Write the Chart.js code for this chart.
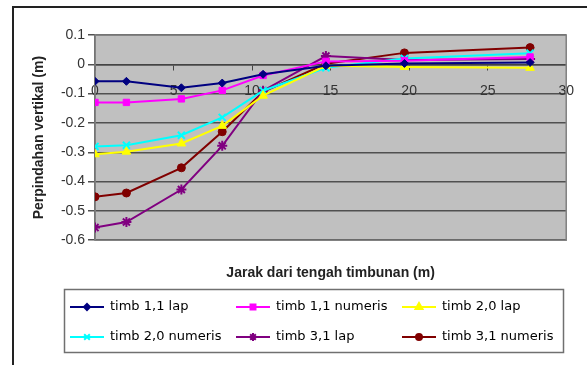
<!DOCTYPE html>
<html>
<head>
<meta charset="utf-8">
<script src="https://cdn.jsdelivr.net/npm/chart.js@4.4.0/dist/chart.umd.min.js"></script>
<style>
  html, body { margin: 0; padding: 0; background: #fff; }
  canvas { display: block; }
</style>
</head>
<body>
<canvas id="grafik" width="587" height="365"></canvas>
<script>
// jarak dari tengah timbunan (m)
const jarak = [0, 2, 5.5, 8.1, 10.7, 14.7, 19.7, 27.7];

// perpindahan vertikal (m)
const timb11Lap     = [-0.058, -0.058, -0.080, -0.064, -0.034, -0.005, 0.003, 0.006];
const timb11Numeris = [-0.130, -0.130, -0.118, -0.089, -0.038, 0.010, 0.012, 0.025];
const timb20Lap     = [-0.307, -0.298, -0.270, -0.210, -0.107, -0.005, -0.009, -0.012];
const timb20Numeris = [-0.280, -0.276, -0.242, -0.181, -0.090, -0.012, 0.020, 0.038];
const timb31Lap     = [-0.557, -0.538, -0.427, -0.278, -0.090, 0.028, 0.015, 0.018];
const timb31Numeris = [-0.452, -0.439, -0.353, -0.230, -0.094, 0.002, 0.039, 0.057];

const yTicks = [0.1, 0, -0.1, -0.2, -0.3, -0.4, -0.5, -0.6];
const xTicks = [0, 5, 10, 15, 20, 25, 30];

const seri = [
  { label: 'timb 1,1 lap',      nilai: timb11Lap,     warna: '#000080', gaya: 'rectRot',  r: 4 },
  { label: 'timb 1,1 numeris',  nilai: timb11Numeris, warna: '#ff00ff', gaya: 'rect',     r: 4.5 },
  { label: 'timb 2,0 lap',      nilai: timb20Lap,     warna: '#ffff00', gaya: 'triangle', r: 5 },
  { label: 'timb 2,0 numeris',  nilai: timb20Numeris, warna: '#00ffff', gaya: 'crossRot', r: 5 },
  { label: 'timb 3,1 lap',      nilai: timb31Lap,     warna: '#800080', gaya: 'star',     r: 5 },
  { label: 'timb 3,1 numeris',  nilai: timb31Numeris, warna: '#800000', gaya: 'circle',   r: 4 }
];

const datasets = seri.map(s => ({
  label: s.label,
  data: jarak.map((x, i) => ({ x: x, y: s.nilai[i] })),
  borderColor: s.warna,
  backgroundColor: s.warna,
  borderWidth: 2,
  pointStyle: s.gaya,
  pointRadius: s.r,
  pointBorderWidth: (s.gaya === 'crossRot' || s.gaya === 'star') ? 2 : 1,
  tension: 0
}));

// latar abu-abu area plot
const latarPlot = {
  id: 'latarPlot',
  beforeDraw(chart) {
    const { ctx, chartArea: a } = chart;
    ctx.save();
    ctx.fillStyle = '#c0c0c0';
    ctx.fillRect(a.left, a.top, a.right - a.left, a.bottom - a.top);
    ctx.restore();
  },
  beforeDatasetsDraw(chart) {
    const { ctx, chartArea: a } = chart;
    ctx.save();
    ctx.strokeStyle = '#808080';
    ctx.lineWidth = 1.5;
    ctx.strokeRect(a.left, a.top, a.right - a.left, a.bottom - a.top);
    ctx.restore();
  }
};

// bingkai luar dan legenda kotak 3 kolom
const legendaKotak = {
  id: 'legendaKotak',
  afterDraw(chart) {
    const ctx = chart.ctx;
    ctx.save();
    ctx.strokeStyle = '#222';
    ctx.lineWidth = 2;
    ctx.beginPath();
    ctx.moveTo(13, 365);
    ctx.lineTo(13, 7);
    ctx.lineTo(587, 7);
    ctx.stroke();

    ctx.strokeStyle = '#707070';
    ctx.lineWidth = 1.5;
    ctx.strokeRect(64.5, 289.5, 499, 63);

    ctx.font = '13px "DejaVu Sans"';
    ctx.textBaseline = 'middle';
    ctx.textAlign = 'left';
    chart.data.datasets.forEach((ds, i) => {
      const x = 70 + (i % 3) * 166;
      const y = 307 + Math.floor(i / 3) * 30;
      ctx.strokeStyle = ds.borderColor;
      ctx.fillStyle = ds.backgroundColor;
      ctx.lineWidth = 2;
      ctx.beginPath();
      ctx.moveTo(x, y);
      ctx.lineTo(x + 34, y);
      ctx.stroke();
      Chart.helpers.drawPoint(ctx, {
        pointStyle: ds.pointStyle,
        radius: ds.pointRadius - 1,
        rotation: 0,
        borderWidth: ds.pointBorderWidth
      }, x + 17, y);
      ctx.fillStyle = '#000';
      ctx.fillText(ds.label, x + 40, y);
    });
    ctx.restore();
  }
};

new Chart(document.getElementById('grafik'), {
  type: 'line',
  data: { datasets: datasets },
  options: {
    responsive: false,
    animation: false,
    devicePixelRatio: 1,
    layout: { padding: { left: 27, top: 35, right: 11, bottom: 83 } },
    plugins: {
      legend: { display: false },
      tooltip: { enabled: false }
    },
    scales: {
      x: {
        type: 'linear',
        position: { y: 0 },
        min: 0,
        max: 30,
        afterBuildTicks: s => { s.ticks = xTicks.map(v => ({ value: v })); },
        ticks: {
          color: '#333',
          font: { family: 'Liberation Sans', size: 14 },
          padding: 13
        },
        grid: { drawOnChartArea: false, tickLength: 5, color: '#444', lineWidth: 1 },
        border: { color: '#444', width: 1.5 }
      },
      xJudul: {
        type: 'linear',
        axis: 'x',
        position: 'bottom',
        min: 0,
        max: 30,
        ticks: { display: false },
        grid: { display: false },
        border: { display: false },
        title: {
          display: true,
          text: 'Jarak dari tengah timbunan (m)',
          color: '#222',
          font: { family: 'Liberation Sans', size: 14, weight: 'bold' },
          padding: { top: 17, bottom: 0 }
        }
      },
      y: {
        type: 'linear',
        min: -0.6,
        max: 0.1,
        afterBuildTicks: s => { s.ticks = yTicks.map(v => ({ value: v })); },
        afterFit: s => { s.width = 68; },
        ticks: {
          color: '#333',
          font: { family: 'Liberation Sans', size: 14 },
          padding: 3,
          callback: v => String(Number(v.toFixed(1)))
        },
        grid: { color: '#505050', lineWidth: 1.5, tickLength: 7 },
        border: { color: '#505050', width: 1.5 },
        title: {
          display: true,
          text: 'Perpindahan vertikal (m)',
          color: '#222',
          font: { family: 'Liberation Sans', size: 14, weight: 'bold' },
          padding: { top: 4, bottom: 4 }
        }
      }
    }
  },
  plugins: [latarPlot, legendaKotak]
});
</script>
</body>
</html>
